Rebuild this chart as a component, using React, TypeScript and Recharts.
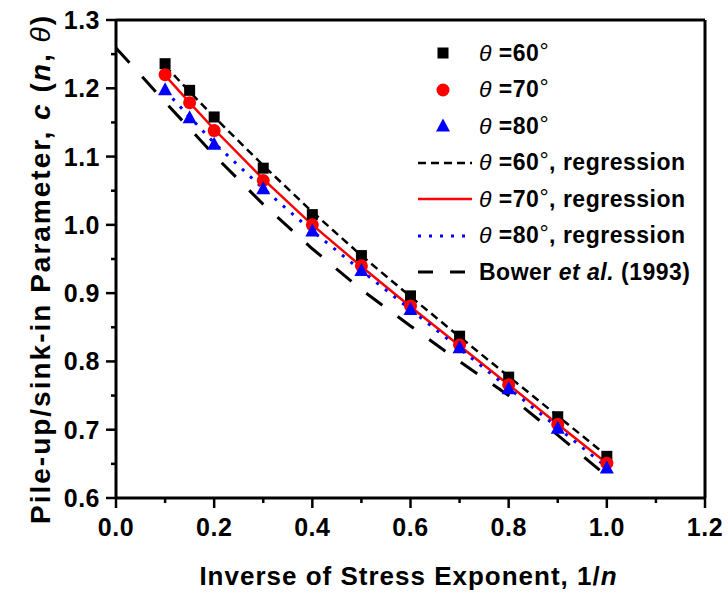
import { ComposedChart, Scatter, Line, XAxis, YAxis, Legend } from "recharts"

// inverse stress exponent 1/n
const invN = [0.1, 0.15, 0.2, 0.3, 0.4, 0.5, 0.6, 0.7, 0.8, 0.9, 1.0]

// simulated c(n, theta)
const c60 = [1.236, 1.197, 1.158, 1.083, 1.015, 0.955, 0.896, 0.837, 0.777, 0.719, 0.661]
const c70 = [1.220, 1.179, 1.138, 1.065, 1.0, 0.94, 0.881, 0.824, 0.766, 0.708, 0.651]
const c80 = [1.198, 1.157, 1.118, 1.053, 0.991, 0.933, 0.876, 0.82, 0.76, 0.702, 0.644]

// regression curves
const fit60 = [1.233, 1.195, 1.158, 1.087, 1.019, 0.955, 0.895, 0.836, 0.778, 0.72, 0.662]
const fit70 = [1.219, 1.179, 1.14, 1.067, 1.0, 0.939, 0.88, 0.823, 0.766, 0.708, 0.651]
const fit80 = [1.197, 1.158, 1.12, 1.053, 0.991, 0.933, 0.876, 0.819, 0.761, 0.703, 0.645]

// Bower et al. (1993)
const bowerX = [0, 0.1, 0.2, 0.3, 0.4, 0.5, 0.6, 0.7, 0.8, 0.9, 1.0]
const bowerC = [1.259, 1.18, 1.102, 1.03, 0.965, 0.905, 0.852, 0.8, 0.75, 0.692, 0.632]

const xTicks = [0, 0.1, 0.2, 0.3, 0.4, 0.5, 0.6, 0.7, 0.8, 0.9, 1.0, 1.1, 1.2]
const yTicks = [0.6, 0.65, 0.7, 0.75, 0.8, 0.85, 0.9, 0.95, 1.0, 1.05, 1.1, 1.15, 1.2, 1.25, 1.3]

const FONT = '"Liberation Sans", Arial, Helvetica, sans-serif'
const AXIS_W = 3

const toPts = (xs: number[], ys: number[]) => xs.map((x, i) => ({ x, y: ys[i] }))

const xMajor = (v: number) => Math.round(v * 10) % 2 === 0
const yMajor = (v: number) => Math.round(v * 100) % 10 === 0

function makeTick(side: "bottom" | "top" | "left" | "right") {
  return (props: any) => {
    const { x, y, payload } = props
    const v = payload.value
    const major = side === "bottom" || side === "top" ? xMajor(v) : yMajor(v)
    const len = major ? 10 : 5
    let line
    let label = null
    if (side === "bottom") {
      line = <line x1={x} x2={x} y1={y} y2={y + len} />
      if (major)
        label = (
          <text x={x} y={y + 38} textAnchor="middle">
            {v.toFixed(1)}
          </text>
        )
    } else if (side === "top") {
      line = <line x1={x} x2={x} y1={y} y2={y + len} />
    } else if (side === "left") {
      line = <line x1={x - len} x2={x} y1={y} y2={y} />
      if (major)
        label = (
          <text x={x - 16} y={y + 9} textAnchor="end">
            {v.toFixed(1)}
          </text>
        )
    } else {
      line = <line x1={x - len} x2={x} y1={y} y2={y} />
    }
    return (
      <g stroke="#000" strokeWidth={2.5}>
        {line}
        {label && (
          <g stroke="none" fill="#000" fontFamily={FONT} fontWeight="bold" fontSize={25} letterSpacing={0.5}>
            {label}
          </g>
        )}
      </g>
    )
  }
}

function XTitle(props: any) {
  const { x, y, width } = props.viewBox
  return (
    <text x={x + width / 2 - 2} y={y + 87} textAnchor="middle" fontFamily={FONT} fontWeight="bold" fontSize={26} letterSpacing={1} fill="#000">
      Inverse of Stress Exponent, 1/<tspan fontStyle="italic">n</tspan>
    </text>
  )
}

function YTitle(props: any) {
  const { y, height } = props.viewBox
  const cy = y + height / 2 + 10
  return (
    <text transform={`translate(50, ${cy}) rotate(-90)`} textAnchor="middle" fontFamily={FONT} fontWeight="bold" fontSize={28} letterSpacing={2} fill="#000">
      Pile-up/sink-in Parameter, <tspan fontStyle="italic">c</tspan> (<tspan fontStyle="italic">n</tspan>,{" "}
      <tspan fontStyle="italic" fontWeight="normal">θ</tspan>)
    </text>
  )
}

const Square = (p: any) => <rect x={p.cx - 5.5} y={p.cy - 5.5} width={11} height={11} fill="#000" />
const Dot = (p: any) => <circle cx={p.cx} cy={p.cy} r={6.5} fill="#ff0000" />
const Tri = (p: any) => <polygon points={`${p.cx},${p.cy - 7.5} ${p.cx + 7},${p.cy + 5.5} ${p.cx - 7},${p.cy + 5.5}`} fill="#0000ff" />

const legendRows = [
  { kind: "square", angle: "60", reg: false },
  { kind: "circle", angle: "70", reg: false },
  { kind: "triangle", angle: "80", reg: false },
  { kind: "dash60", angle: "60", reg: true },
  { kind: "solid70", angle: "70", reg: true },
  { kind: "dot80", angle: "80", reg: true },
  { kind: "bower", angle: "", reg: false },
]

function LegendSymbol({ kind }: { kind: string }) {
  return (
    <svg width={60} height={20}>
      {kind === "square" && <rect x={22.5} y={4.5} width={11} height={11} fill="#000" />}
      {kind === "circle" && <circle cx={28} cy={10} r={6.5} fill="#ff0000" />}
      {kind === "triangle" && <polygon points="28,2.5 35,15.5 21,15.5" fill="#0000ff" />}
      {kind === "dash60" && <line x1={3} x2={57} y1={10} y2={10} stroke="#000" strokeWidth={2.5} strokeDasharray="8 5" />}
      {kind === "solid70" && <line x1={3} x2={57} y1={10} y2={10} stroke="#ff0000" strokeWidth={2.5} />}
      {kind === "dot80" && <line x1={3} x2={57} y1={10} y2={10} stroke="#0000ff" strokeWidth={3} strokeDasharray="3 8" />}
      {kind === "bower" && <line x1={3} x2={57} y1={10} y2={10} stroke="#000" strokeWidth={3} strokeDasharray="15 17" />}
    </svg>
  )
}

function LegendBox() {
  return (
    <div style={{ fontFamily: FONT, fontWeight: "bold", fontSize: 23, letterSpacing: 0.5, color: "#000" }}>
      {legendRows.map((r) => (
        <div key={r.kind} style={{ display: "flex", alignItems: "center", height: 36.5 }}>
          <LegendSymbol kind={r.kind} />
          <span style={{ marginLeft: 4, whiteSpace: "nowrap" }}>
            {r.kind === "bower" ? (
              <>
                Bower <i>et al.</i> (1993)
              </>
            ) : (
              <>
                <i style={{ fontWeight: "normal" }}>θ</i> =
                {r.angle}
                <span style={{ fontWeight: "normal", position: "relative", top: -2 }}>°</span>
                {r.reg ? ", regression" : ""}
              </>
            )}
          </span>
        </div>
      ))}
    </div>
  )
}

export default function App() {
  return (
    <div style={{ position: "absolute", left: 0, top: 0, width: 728, height: 594, background: "#fff" }}>
      <ComposedChart width={728} height={594} margin={{ top: 19, right: 22, bottom: 0, left: 0 }}>
        <XAxis
          xAxisId={0}
          dataKey="x"
          type="number"
          domain={[0, 1.2]}
          ticks={xTicks}
          interval={0}
          height={96}
          tickSize={0}
          tickMargin={0}
          tickLine={false}
          axisLine={{ stroke: "#000", strokeWidth: AXIS_W }}
          tick={makeTick("bottom")}
          label={<XTitle />}
        />
        <XAxis
          xAxisId="top"
          orientation="top"
          type="number"
          domain={[0, 1.2]}
          ticks={xTicks}
          interval={0}
          height={1}
          tickSize={0}
          tickMargin={0}
          tickLine={false}
          axisLine={{ stroke: "#000", strokeWidth: AXIS_W }}
          tick={makeTick("top")}
        />
        <YAxis
          yAxisId={0}
          dataKey="y"
          type="number"
          domain={[0.6, 1.3]}
          ticks={yTicks}
          interval={0}
          width={116}
          tickSize={0}
          tickMargin={0}
          tickLine={false}
          axisLine={{ stroke: "#000", strokeWidth: AXIS_W }}
          tick={makeTick("left")}
          label={<YTitle />}
        />
        <YAxis
          yAxisId="right"
          orientation="right"
          type="number"
          domain={[0.6, 1.3]}
          ticks={yTicks}
          interval={0}
          width={1}
          tickSize={0}
          tickMargin={0}
          tickLine={false}
          axisLine={{ stroke: "#000", strokeWidth: AXIS_W }}
          tick={makeTick("right")}
        />
        <Legend
          layout="vertical"
          align="center"
          verticalAlign="middle"
          wrapperStyle={{ position: "absolute", left: 415, top: 35, width: 310 }}
          content={() => <LegendBox />}
        />
        <Line data={toPts(bowerX, bowerC)} dataKey="y" stroke="#000" strokeWidth={3} strokeDasharray="20 19" dot={false} isAnimationActive={false} />
        <Scatter data={toPts(invN, c60)} dataKey="y" shape={Square} isAnimationActive={false} />
        <Scatter data={toPts(invN, c70)} dataKey="y" shape={Dot} isAnimationActive={false} />
        <Scatter data={toPts(invN, c80)} dataKey="y" shape={Tri} isAnimationActive={false} />
        <Line data={toPts(invN, fit60)} dataKey="y" stroke="#000" strokeWidth={2.5} strokeDasharray="8 5" dot={false} isAnimationActive={false} />
        <Line data={toPts(invN, fit70)} dataKey="y" stroke="#ff0000" strokeWidth={2.5} dot={false} isAnimationActive={false} />
        <Line data={toPts(invN, fit80)} dataKey="y" stroke="#0000ff" strokeWidth={3} strokeDasharray="3 8" dot={false} isAnimationActive={false} />
      </ComposedChart>
    </div>
  )
}
